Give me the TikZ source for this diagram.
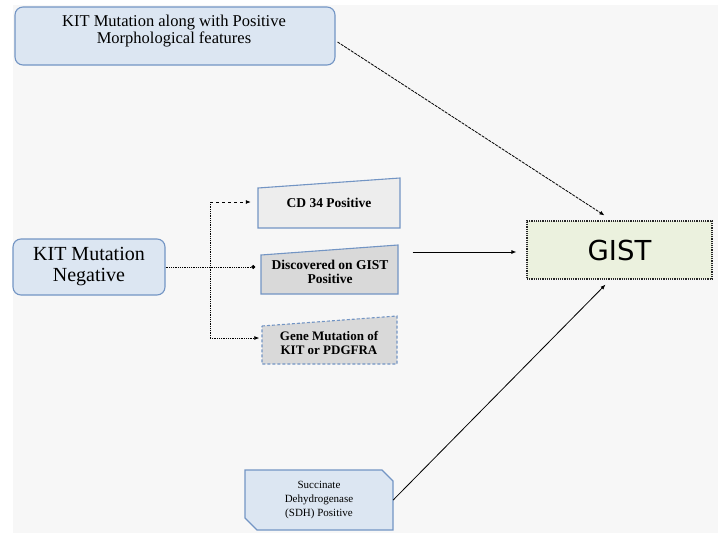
\documentclass[tikz,border=0pt]{standalone}
\usepackage{fontspec}
\setmainfont{Liberation Serif}
\newfontfamily\gistfont{DejaVu Sans}
\usetikzlibrary{arrows.meta,calc}
\definecolor{bfill}{HTML}{DCE6F2}
\definecolor{bline}{HTML}{7395C4}
\definecolor{glight}{HTML}{EDEDED}
\definecolor{gmid}{HTML}{D9D9D9}
\definecolor{gfill}{HTML}{EBF1DE}
\definecolor{panel}{HTML}{F7F7F7}
\tikzset{
  roundbox/.style={draw=bline, fill=bfill, line width=1.1pt, rounded corners=8pt, inner sep=0pt, align=center},
  txt/.style={inner sep=0pt, align=center},
  conn/.style={line width=0.8pt, black},
  tipA/.style={-{Latex[length=5pt,width=4pt]}},
  tipD/.style={-{Circle[length=4pt]}}
}
\begin{document}
\begin{tikzpicture}[x=1pt,y=-1pt]
\useasboundingbox (0,0) rectangle (718,533);
\fill[white] (0,0) rectangle (718,533);
\fill[panel] (13,5) rectangle (718,533);

% top box
\node[roundbox, minimum width=320pt, minimum height=58pt] (top) at (175,36) {};
\node[txt, font=\fontsize{16.5}{17.5}\selectfont] (toptxt) at (174,31) {KIT Mutation along with Positive\\Morphological features};

% KIT mutation negative
\node[roundbox, minimum width=152pt, minimum height=56pt, font=\fontsize{20}{21}\selectfont] (neg) at (89,267) {KIT Mutation\\Negative};

% CD34 box
\fill[glight] (258,188) -- (400,178) -- (400,228) -- (258,228) -- cycle;
\draw[bline, line width=1.1pt] (258,188) -- (400,178) -- (400,228) -- (258,228) -- cycle;
\node[txt, minimum width=142pt, minimum height=40pt, font=\bfseries\fontsize{13.5}{14}\selectfont] (cd34) at (329,203) {CD 34 Positive};

% Discovered box
\fill[gmid] (261,255) -- (398,245) -- (398,294) -- (261,294) -- cycle;
\draw[bline, line width=1.1pt] (261,255) -- (398,245) -- (398,294) -- (261,294) -- cycle;
\node[txt, minimum width=137pt, font=\bfseries\fontsize{13.5}{14}\selectfont] (disc) at (330,272) {Discovered on GIST\\Positive};

% Gene mutation box
\fill[gmid] (262,326) -- (397,316) -- (397,364) -- (262,364) -- cycle;
\draw[bline, line width=1.1pt, densely dashed] (262,326) -- (397,316) -- (397,364) -- (262,364) -- cycle;
\node[txt, minimum width=135pt, font=\bfseries\fontsize{13}{14}\selectfont] (gene) at (329,343) {Gene Mutation of\\KIT or PDGFRA};

% SDH box
\fill[bfill] (245,470) -- (382,470) -- (393,481) -- (393,530) -- (257,530) -- (245,518) -- cycle;
\draw[bline, line width=1.1pt] (245,470) -- (382,470) -- (393,481) -- (393,530) -- (257,530) -- (245,518) -- cycle;
\node[txt, minimum width=148pt, font=\fontsize{11}{14}\selectfont] (sdh) at (319,500) {Succinate\\Dehydrogenase\\(SDH) Positive};

% GIST
\node[draw=black!85, densely dotted, line width=1.2pt, fill=gfill, minimum width=185pt, minimum height=58pt, inner sep=0pt, font=\gistfont\fontsize{27.5}{28}\selectfont] (gist) at (619.5,250) {GIST};

% connectors
\coordinate (bt) at (210,202);
\coordinate (bb) at (210,338);
\draw[conn, dash pattern=on 3pt off 1pt, tipA] ($(top.east)+(2,6)$) -- ($(gist.north)+(-15,-5)$);
\draw[conn, densely dotted, tipD] (neg.east) -- ($(disc.west |- neg.east)+(-6,0)$);
\draw[conn, densely dotted] (bt) -- (bb);
\draw[conn, dashed, tipA] (bt) -- ($(cd34.west |- bt)+(-7,0)$);
\draw[conn, densely dotted, tipA] (bb) -- ($(gene.west |- bb)+(-2,0)$);
\draw[conn, tipA] ($(disc.east |- gist.west)+(14,2)$) -- ($(gist.west)+(-10,2)$);
\draw[conn, tipA] (sdh.east) -- ($(gist.south)+(-14,5)$);
\end{tikzpicture}
\end{document}
